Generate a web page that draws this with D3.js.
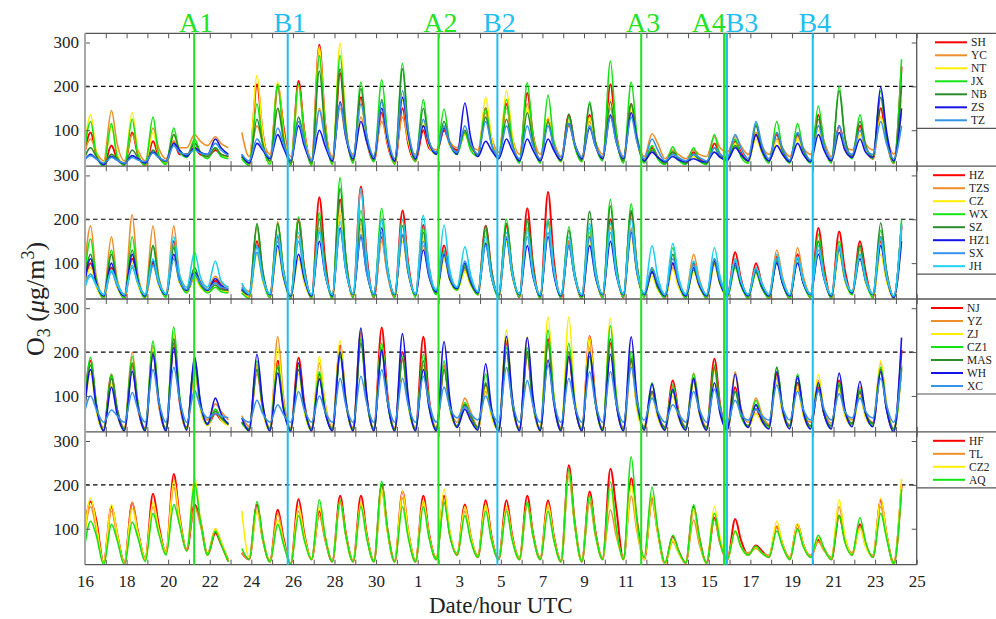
<!DOCTYPE html>
<html>
<head>
<meta charset="utf-8">
<script src="https://cdn.jsdelivr.net/npm/d3@7/dist/d3.min.js"></script>
<style>
  body { margin: 0; background: #fff; }
  svg { display: block; font-family: "Liberation Serif", "Times New Roman", serif; }
</style>
</head>
<body>
<svg id="chart" width="996" height="619"></svg>
<script>
// ---- time axis: hourly O3 from the 16th to the 25th of the following month (960 h) ----
const totalHours = 960;
const dayTickLabels = ["16","18","20","22","24","26","28","30","1","3","5","7","9","11","13","15","17","19","21","23","25"];
const yTickValues = [100, 200, 300];
const yDomain = [18, 321];
const refLevel = 200;

// Times of day (UTC hours) of the night minimum, afternoon peak and evening level
const lowHour = -2.5, peakHour = 6.5, eveHour = 13;

// Episode markers (hours since the 16th, 00 UTC)
const eventNames = ["A1", "B1", "A2", "B2", "A3", "A4", "B3", "B4"];
const eventHours = [126, 234, 408, 476, 642, 738, 741, 840];

// ---- Panel 1: SH YC NT JX NB ZS TZ ---- (one value per day; null = missing)
const SH_pk = [95,65,95,75,75,60,55,null,205,200,212,295,230,175,140,150,100,100,95,150,160,185,125,135,135,205,160,60,50,50,70,75,90,90,90,135,110,110,150,245];
const SH_lo = [25,20,22,20,25,45,40,40,20,25,22,22,25,30,30,25,30,50,55,45,40,30,30,30,30,35,30,30,25,25,25,35,30,30,30,30,30,40,35,25];
const SH_ev = [45,35,45,40,45,45,45,40,95,110,100,120,100,80,70,70,60,70,65,80,80,90,65,70,70,95,80,40,35,35,45,50,55,50,55,70,60,60,80,null];

const YC_pk = [80,145,90,105,75,90,85,null,110,150,120,150,150,130,120,130,110,105,100,140,150,160,120,110,120,150,140,92,55,55,85,85,95,80,85,110,95,100,130,140];
const YC_lo = [35,30,30,30,35,60,65,60,40,45,40,35,40,45,40,35,45,55,60,55,50,45,45,40,40,45,40,40,35,35,40,50,45,45,40,45,40,55,55,45];
const YC_ev = [50,70,55,60,60,75,70,95,75,90,80,95,85,80,75,75,70,75,70,85,85,90,75,70,75,85,85,70,45,45,60,65,65,60,60,75,65,70,85,null];

const NT_pk = [135,110,140,95,90,70,60,null,225,210,200,290,298,160,150,170,120,110,90,175,190,150,130,120,130,170,150,55,45,40,60,70,80,75,80,100,95,90,130,170];
const NT_lo = [22,20,20,20,25,40,40,38,22,25,22,22,25,28,30,25,30,45,50,40,38,28,28,28,28,32,28,30,25,25,25,32,28,28,28,28,28,38,38,28];
const NT_ev = [50,45,50,45,55,50,45,35,95,100,95,120,120,80,75,80,65,65,60,85,90,80,70,65,70,85,75,40,32,30,40,45,50,45,50,60,55,55,75,null];

const JX_pk = [120,115,125,130,105,80,60,null,160,205,205,270,270,210,215,252,170,148,95,150,170,208,180,130,165,258,210,65,62,60,90,80,115,120,115,155,200,135,190,262];
const JX_lo = [20,18,20,20,22,38,35,35,20,22,20,20,22,25,28,22,28,45,45,40,35,25,25,28,28,30,25,25,22,22,22,30,25,25,25,25,25,35,35,25];
const JX_ev = [45,40,45,45,50,50,40,35,70,85,90,110,110,90,95,100,75,70,55,70,75,85,75,65,75,100,90,35,32,30,40,40,55,55,55,70,85,65,85,null];

const NB_pk = [60,45,55,55,90,70,60,null,125,150,130,235,240,195,170,240,150,120,100,130,125,140,120,137,160,165,160,55,50,45,60,65,110,95,95,125,190,120,175,200];
const NB_lo = [25,22,22,25,28,42,40,40,25,30,25,25,28,30,32,28,32,48,50,45,40,30,30,32,32,35,30,30,25,25,25,35,30,30,30,30,30,40,40,30];
const NB_ev = [40,35,38,38,55,50,45,40,70,80,75,100,105,90,85,100,75,70,65,70,70,75,65,70,75,80,80,40,35,32,40,45,60,55,55,65,85,65,85,null];

const ZS_pk = [45,40,42,50,70,60,80,null,70,90,110,100,165,120,150,175,110,105,162,75,80,80,80,115,105,135,140,50,40,35,50,60,90,65,70,90,95,80,198,150];
const ZS_lo = [25,22,24,25,30,40,45,45,25,35,30,30,30,35,35,30,35,45,45,40,35,30,30,32,35,35,35,30,28,28,28,32,30,30,28,28,30,38,38,30];
const ZS_ev = [35,32,35,38,55,50,60,45,55,60,65,65,85,75,80,90,70,70,85,55,55,55,55,70,65,75,80,38,32,30,38,45,55,45,45,55,55,50,100,null];

const TZ_pk = [42,38,38,48,65,55,70,null,80,105,120,145,160,160,165,190,125,110,110,120,110,110,110,115,110,130,130,80,45,45,60,90,120,95,95,110,110,100,120,110];
const TZ_lo = [28,25,25,28,30,45,45,42,30,38,32,30,35,40,40,35,40,50,50,45,40,35,35,38,38,40,38,35,30,30,30,38,35,35,32,32,35,45,45,35];
const TZ_ev = [35,32,32,38,50,48,55,45,60,70,75,80,90,90,90,100,75,70,70,70,65,65,65,70,65,75,75,55,38,38,45,60,70,60,60,65,65,60,70,null];

// ---- Panel 2: HZ TZS CZ WX SZ HZ1 SX JH ----
const HZ_pk = [100,90,110,100,150,70,60,null,150,160,200,250,245,275,160,220,187,140,95,185,185,225,262,150,160,200,215,85,100,100,100,125,100,115,120,180,172,150,150,185];
const HZ_lo = [22,20,20,22,25,35,35,35,22,22,20,20,20,22,22,22,25,30,40,28,22,22,20,20,20,22,22,25,20,22,20,25,20,20,20,22,20,30,22,20];
const HZ_ev = [55,50,60,55,70,50,45,40,75,80,90,110,110,120,80,100,90,75,60,85,85,100,110,75,80,90,95,50,55,55,55,65,55,60,65,90,85,80,80,null];

const TZS_pk = [185,160,210,185,185,75,70,null,180,195,160,180,210,180,150,160,140,110,85,150,160,180,200,150,170,180,180,80,90,120,110,110,90,130,135,150,140,130,160,170];
const TZS_lo = [30,28,28,28,30,45,45,45,35,30,28,28,28,30,30,30,30,35,45,35,30,30,28,28,28,30,30,30,28,30,28,30,28,28,28,30,28,35,30,25];
const TZS_ev = [70,65,75,70,75,60,55,50,80,85,75,85,90,85,75,80,70,65,60,75,75,85,90,75,80,85,85,50,55,65,60,60,55,70,70,75,70,70,80,null];

const CZ_pk = [90,85,100,95,110,70,50,null,120,130,110,170,220,190,170,150,160,110,80,150,150,170,190,140,150,170,160,70,85,80,95,90,75,100,105,140,120,110,120,150];
const CZ_lo = [22,22,22,22,25,35,35,35,22,25,22,22,22,25,25,25,25,30,38,28,25,25,22,22,22,25,25,25,22,22,22,25,22,22,22,25,22,28,25,20];
const CZ_ev = [45,45,50,50,55,45,38,35,60,65,55,80,95,85,80,75,75,60,50,70,70,80,85,70,70,80,75,40,45,45,50,50,45,55,55,70,60,55,60,null];

const WX_pk = [155,130,160,140,140,75,45,null,185,190,205,215,295,220,225,200,180,130,95,175,200,195,200,183,180,245,235,85,135,90,110,90,80,110,110,165,150,140,175,198];
const WX_lo = [20,20,20,20,22,32,32,32,20,22,20,20,20,22,22,22,22,28,38,28,22,22,20,20,20,22,22,22,20,20,20,22,20,20,20,22,20,28,22,20];
const WX_ev = [60,55,65,60,65,50,35,32,75,80,85,90,115,95,95,90,80,65,55,75,85,85,85,80,80,100,95,45,60,50,55,50,45,55,55,75,70,65,80,null];

const SZ_pk = [120,120,130,140,135,90,50,null,190,190,195,200,270,200,200,185,170,120,90,185,190,200,195,175,218,230,220,80,120,85,100,95,80,105,110,150,130,140,192,190];
const SZ_lo = [25,25,25,25,28,38,38,38,28,28,25,25,25,28,28,28,28,32,42,32,28,28,25,25,25,28,28,28,25,25,25,28,25,25,25,28,25,32,28,22];
const SZ_ev = [55,55,60,65,65,55,40,38,85,85,90,90,110,90,90,85,80,65,55,85,85,90,85,80,95,100,95,45,60,50,55,50,45,55,55,70,65,70,85,null];

const HZ1_pk = [110,100,120,105,120,80,65,null,140,140,120,150,180,160,180,165,130,120,100,145,155,140,160,140,140,150,170,80,100,90,105,100,85,100,100,120,135,110,140,150];
const HZ1_lo = [25,25,25,25,28,38,38,40,28,28,25,25,25,28,28,28,28,35,42,32,28,28,25,25,25,28,28,28,25,25,25,28,25,25,25,28,25,32,28,22];
const HZ1_ev = [55,50,60,55,60,55,50,42,70,70,65,75,85,80,85,80,70,65,60,70,75,70,75,70,70,75,80,50,55,50,55,55,50,55,55,65,70,60,70,null];

const SX_pk = [75,80,90,95,110,75,55,null,125,150,150,170,175,165,170,165,150,125,105,140,160,160,170,140,160,170,175,90,110,95,110,105,85,110,110,130,135,120,160,180];
const SX_lo = [28,28,28,28,30,40,40,42,30,30,28,28,28,30,30,30,30,38,45,35,30,30,28,28,28,30,30,30,28,28,28,30,28,28,28,30,28,35,30,25];
const SX_ev = [50,50,55,55,60,55,45,45,65,75,75,80,85,80,80,80,75,70,65,70,75,75,80,70,75,80,80,55,60,55,60,60,55,60,60,65,65,60,75,null];

const JH_pk = [70,85,95,110,160,125,105,null,140,165,170,175,195,270,200,200,209,187,137,160,170,175,200,160,190,190,200,140,145,105,135,110,90,120,115,140,140,120,155,190];
const JH_lo = [30,28,28,28,30,45,45,45,30,30,28,28,28,30,30,30,30,40,45,35,30,30,28,28,28,30,30,32,28,30,28,30,28,28,28,30,28,35,30,25];
const JH_ev = [50,55,55,60,75,70,60,55,70,80,80,80,90,110,90,90,95,85,75,75,80,80,90,75,85,85,90,70,70,60,70,60,55,65,60,70,70,65,75,null];

// ---- Panel 3: NJ YZ ZJ CZ1 MAS WH XC ----
const NJ_pk = [180,148,170,200,220,170,60,null,170,180,187,150,215,245,256,200,235,170,80,125,220,200,230,190,236,220,180,110,135,140,185,120,70,150,130,120,135,110,160,205];
const NJ_lo = [25,22,22,22,22,25,35,35,22,22,22,22,22,22,22,22,22,22,30,25,22,22,22,22,22,22,22,25,25,25,25,25,30,30,30,30,30,35,35,20];
const NJ_ev = [80,70,75,85,90,80,45,40,75,80,85,70,90,100,105,90,95,80,55,65,90,85,95,85,95,90,80,60,65,65,80,60,45,70,65,60,65,60,75,null];

const YZ_pk = [170,140,200,215,230,165,82,null,150,235,160,175,200,230,210,180,170,160,95,110,225,190,220,200,210,215,190,105,120,152,160,155,95,140,125,135,125,120,175,160];
const YZ_lo = [30,28,28,28,28,30,45,45,30,28,28,28,28,28,28,28,28,28,40,30,28,28,28,28,28,28,28,32,30,30,30,35,40,35,35,40,38,45,40,25];
const YZ_ev = [80,70,85,90,95,80,65,55,75,100,80,85,90,100,95,85,85,80,65,65,95,85,95,90,90,95,85,60,65,75,75,75,60,70,65,70,65,65,85,null];

const ZJ_pk = [150,130,175,205,245,165,70,null,170,210,150,190,226,252,220,190,180,175,70,120,250,235,280,280,235,277,170,100,100,130,155,150,60,130,115,148,115,100,180,160];
const ZJ_lo = [20,20,20,20,20,22,32,32,20,20,20,20,20,20,20,20,20,20,28,22,20,20,20,20,20,20,20,22,22,22,22,22,28,28,28,28,28,32,32,20];
const ZJ_ev = [65,60,75,85,95,70,45,38,70,85,65,80,90,100,90,80,75,75,45,55,95,90,105,105,90,105,70,50,50,60,70,65,40,60,55,65,55,50,80,null];

const CZ1_pk = [188,150,190,225,257,185,70,null,180,170,170,155,200,230,220,190,195,180,85,150,210,210,250,220,200,260,200,130,125,150,170,110,90,165,150,125,130,115,165,170];
const CZ1_lo = [22,20,22,22,22,25,35,35,22,22,22,22,22,22,22,22,22,22,30,25,22,22,22,22,22,22,22,25,25,25,25,25,30,30,30,30,30,35,35,22];
const CZ1_ev = [85,70,85,95,105,85,50,38,80,75,75,70,90,95,90,85,85,80,55,70,90,90,100,90,85,105,85,65,60,70,75,55,50,75,70,60,65,60,75,null];

const MAS_pk = [170,140,175,200,230,170,65,null,160,165,160,140,190,220,200,185,180,160,80,130,200,195,220,200,190,230,185,110,110,135,165,110,80,165,140,115,125,110,160,165];
const MAS_lo = [25,22,25,25,25,28,38,38,25,25,25,25,25,25,25,25,25,25,32,28,25,25,25,25,25,25,25,28,28,28,28,28,32,32,32,32,32,38,38,25];
const MAS_ev = [80,70,80,90,95,80,50,40,75,75,75,65,85,95,90,85,80,75,55,65,85,85,95,85,85,95,85,60,60,65,75,60,50,75,70,60,65,60,75,null];

const WH_pk = [160,120,156,195,210,190,95,null,195,152,175,138,200,255,205,242,160,224,70,173,236,233,182,190,200,195,235,127,115,140,130,150,80,155,145,130,152,133,155,233];
const WH_lo = [22,20,20,20,20,22,35,35,20,20,20,20,20,20,20,20,20,20,28,22,20,20,20,20,20,20,20,22,22,22,22,22,28,25,25,25,25,30,30,18];
const WH_ev = [75,60,75,90,95,90,60,50,85,70,80,65,90,105,90,100,75,95,45,75,100,100,85,85,90,85,100,60,55,65,60,70,45,70,65,60,70,60,70,null];

const XC_pk = [100,68,108,160,165,112,60,null,90,80,110,100,140,145,160,140,145,120,75,100,165,135,170,140,155,155,165,95,80,110,115,90,70,125,110,110,105,95,140,160];
const XC_lo = [45,40,40,40,40,40,50,50,40,40,40,40,40,40,40,40,40,40,50,45,40,40,40,40,40,40,40,45,40,40,40,40,45,45,45,45,45,50,50,40];
const XC_ev = [70,55,70,90,95,75,55,50,60,58,70,65,80,85,90,80,85,75,60,65,90,80,90,80,85,85,90,65,60,70,70,60,55,75,70,70,65,65,80,null];

// ---- Panel 4: HF TL CZ2 AQ ----
const HF_pk = [162,150,159,180,225,155,90,null,155,143,168,140,175,175,200,185,175,175,155,165,165,175,165,245,185,237,215,170,83,150,125,122,62,105,110,75,130,110,165,200];
const HF_lo = [65,22,22,30,45,50,40,25,30,25,20,30,25,25,25,25,25,30,40,35,30,30,30,25,25,30,30,30,20,22,22,30,40,35,30,35,30,40,35,20];
const HF_ev = [120,90,95,110,130,120,65,45,80,80,90,80,90,90,100,95,90,90,85,85,85,90,85,120,95,150,120,95,50,80,70,75,50,65,65,55,75,65,90,null];

const TL_pk = [150,140,160,150,195,150,100,null,140,135,140,130,160,155,185,170,160,160,140,150,145,155,150,220,160,143,175,160,70,120,120,95,55,105,100,70,150,105,150,200];
const TL_lo = [55,25,25,35,50,55,45,30,30,28,22,32,28,28,28,28,28,35,45,40,35,35,35,28,28,35,35,30,22,25,25,35,45,40,35,40,35,45,40,25];
const TL_ev = [100,85,95,95,115,110,70,45,75,75,80,75,85,85,95,90,85,85,80,80,80,85,80,110,85,85,95,90,45,65,65,60,45,65,60,50,80,60,85,null];

const CZ2_pk = [170,155,145,160,210,217,100,null,140,120,150,150,165,160,190,185,165,190,150,155,150,160,155,230,175,190,200,175,75,145,150,95,58,117,112,80,166,100,170,213];
const CZ2_lo = [40,20,20,30,45,50,40,25,35,25,20,30,25,25,25,25,25,30,40,35,30,30,30,25,25,30,30,30,20,22,22,30,40,35,30,35,30,40,35,18];
const CZ2_ev = [110,90,90,100,125,125,70,140,80,70,85,85,85,85,95,95,85,95,85,80,80,85,80,115,90,100,105,95,45,75,80,60,45,65,65,55,85,60,90,null];

const AQ_pk = [117,110,115,135,155,204,95,null,162,110,130,166,165,150,208,150,150,160,130,140,140,160,140,235,175,207,264,195,85,155,135,95,60,95,100,85,130,125,135,190];
const AQ_lo = [30,18,18,25,40,50,40,25,30,25,20,30,25,25,25,25,25,30,40,35,30,30,30,25,25,30,30,35,22,22,22,30,40,35,30,35,30,40,35,20];
const AQ_ev = [85,75,80,90,110,120,65,55,80,65,75,85,85,80,100,80,80,85,75,75,75,85,75,115,90,105,120,100,50,80,70,60,45,60,60,55,70,70,80,null];

// ---- series tables per panel ----
const C = { red: "#ff0000", orange: "#ef8f2c", yellow: "#ffee00", green: "#14e314",
            dkgreen: "#2a8c2a", blue: "#1414e6", ltblue: "#3593ee", cyan: "#1fd0f2" };
const panels = [
  [ ["SH", C.red, SH_lo, SH_pk, SH_ev], ["YC", C.orange, YC_lo, YC_pk, YC_ev], ["NT", C.yellow, NT_lo, NT_pk, NT_ev],
    ["JX", C.green, JX_lo, JX_pk, JX_ev], ["NB", C.dkgreen, NB_lo, NB_pk, NB_ev], ["ZS", C.blue, ZS_lo, ZS_pk, ZS_ev],
    ["TZ", C.ltblue, TZ_lo, TZ_pk, TZ_ev] ],
  [ ["HZ", C.red, HZ_lo, HZ_pk, HZ_ev], ["TZS", C.orange, TZS_lo, TZS_pk, TZS_ev], ["CZ", C.yellow, CZ_lo, CZ_pk, CZ_ev],
    ["WX", C.green, WX_lo, WX_pk, WX_ev], ["SZ", C.dkgreen, SZ_lo, SZ_pk, SZ_ev], ["HZ1", C.blue, HZ1_lo, HZ1_pk, HZ1_ev],
    ["SX", C.ltblue, SX_lo, SX_pk, SX_ev], ["JH", C.cyan, JH_lo, JH_pk, JH_ev] ],
  [ ["NJ", C.red, NJ_lo, NJ_pk, NJ_ev], ["YZ", C.orange, YZ_lo, YZ_pk, YZ_ev], ["ZJ", C.yellow, ZJ_lo, ZJ_pk, ZJ_ev],
    ["CZ1", C.green, CZ1_lo, CZ1_pk, CZ1_ev], ["MAS", C.dkgreen, MAS_lo, MAS_pk, MAS_ev], ["WH", C.blue, WH_lo, WH_pk, WH_ev],
    ["XC", C.ltblue, XC_lo, XC_pk, XC_ev] ],
  [ ["HF", C.red, HF_lo, HF_pk, HF_ev], ["TL", C.orange, TL_lo, TL_pk, TL_ev], ["CZ2", C.yellow, CZ2_lo, CZ2_pk, CZ2_ev],
    ["AQ", C.green, AQ_lo, AQ_pk, AQ_ev] ]
];

// ---- layout ----
const L = 85, R = 916.7, RIGHT_EDGE = 996;
const panelTops = [33.3, 166.2, 299, 431.8];
const PH = 132.9;
const legendLineX = [935, 933, 931, 933];

const svg = d3.select("#chart");
const x = d3.scaleLinear().domain([0, totalHours]).range([L, R]);
const dayHours = d3.range(0, totalHours + 1, 24);

function seriesPoints(lo, pk, ev) {
  const pts = [];
  for (let i = 0; i < pk.length; i++) {
    pts.push({ t: i * 24 + lowHour, v: lo[i] });
    pts.push({ t: i * 24 + peakHour, v: pk[i] });
    pts.push({ t: i * 24 + eveHour, v: ev[i] });
  }
  return pts;
}

const defs = svg.append("defs");

panels.forEach((series, k) => {
  const top = panelTops[k], bot = top + PH;
  const y = d3.scaleLinear().domain(yDomain).range([bot, top]);
  const g = svg.append("g");

  defs.append("clipPath").attr("id", "clip" + k)
    .append("rect").attr("x", L).attr("y", top).attr("width", R - L).attr("height", PH);

  // 200 µg/m3 reference
  g.append("line").attr("x1", L).attr("x2", R).attr("y1", y(refLevel)).attr("y2", y(refLevel))
    .attr("stroke", "#000").attr("stroke-width", 1.2).attr("stroke-dasharray", "4.5,3.5");

  const line = d3.line().defined(d => d.v != null)
    .x(d => x(d.t)).y(d => y(d.v)).curve(d3.curveMonotoneX);

  const lines = g.append("g").attr("clip-path", `url(#clip${k})`);
  series.forEach(([name, color, lo, pk, ev]) => {
    lines.append("path").datum(seriesPoints(lo, pk, ev))
      .attr("d", line).attr("fill", "none").attr("stroke", color)
      .attr("stroke-width", color === C.red ? 2 : 1.6).attr("stroke-linejoin", "round");
  });

  // y axes (ticks inside)
  const yl = g.append("g").attr("transform", `translate(${L},0)`)
    .call(d3.axisLeft(y).tickValues(yTickValues).tickSize(-5).tickPadding(6));
  yl.select(".domain").remove();
  yl.selectAll("line").attr("stroke", "#555");
  yl.selectAll("text").attr("font-size", 17).attr("fill", "#222").attr("font-family", "Liberation Serif, serif");
  const yr = g.append("g").attr("transform", `translate(${R},0)`)
    .call(d3.axisRight(y).tickValues(yTickValues).tickSize(-5).tickFormat(""));
  yr.select(".domain").remove();
  yr.selectAll("line").attr("stroke", "#555");

  // day ticks, top and bottom, inside
  const xt = g.append("g").attr("transform", `translate(0,${top})`)
    .call(d3.axisBottom(x).tickValues(dayHours).tickSize(5).tickFormat(""));
  xt.select(".domain").remove();
  xt.selectAll("line").attr("stroke", "#555");
  const xb = g.append("g").attr("transform", `translate(0,${bot})`)
    .call(d3.axisTop(x).tickValues(dayHours).tickSize(5).tickFormat(""));
  xb.select(".domain").remove();
  xb.selectAll("line").attr("stroke", "#555");

  // panel top rule runs across the legend column
  g.append("line").attr("x1", L).attr("x2", RIGHT_EDGE).attr("y1", top).attr("y2", top)
    .attr("stroke", "#555").attr("stroke-width", 1.3);

  // legend
  const legH = series.length * 13 + 4;
  g.append("line").attr("x1", R).attr("x2", RIGHT_EDGE).attr("y1", top + legH).attr("y2", top + legH)
    .attr("stroke", "#555").attr("stroke-width", 1.2);
  const lx = legendLineX[k];
  series.forEach(([name, color], i) => {
    const ly = top + 9 + i * 13;
    g.append("line").attr("x1", lx).attr("x2", lx + 32).attr("y1", ly).attr("y2", ly)
      .attr("stroke", color).attr("stroke-width", 2);
    g.append("text").attr("x", lx + 36).attr("y", ly).attr("dy", "0.35em")
      .attr("font-size", 11.5).attr("fill", "#222").text(name);
  });
});

const plotTop = panelTops[0], plotBot = panelTops[3] + PH;

// outer frame
svg.append("line").attr("x1", L).attr("x2", L).attr("y1", plotTop).attr("y2", plotBot)
  .attr("stroke", "#a8a8a8").attr("stroke-width", 2);
svg.append("line").attr("x1", R).attr("x2", R).attr("y1", plotTop).attr("y2", plotBot)
  .attr("stroke", "#555").attr("stroke-width", 1.3);
svg.append("line").attr("x1", L).attr("x2", R).attr("y1", plotBot).attr("y2", plotBot)
  .attr("stroke", "#555").attr("stroke-width", 1.3);

// date labels under the bottom panel
const xl = svg.append("g").attr("transform", `translate(0,${plotBot})`)
  .call(d3.axisBottom(x).tickValues(d3.range(0, totalHours + 1, 48)).tickSize(0).tickPadding(10.5)
    .tickFormat((d, i) => dayTickLabels[i]));
xl.select(".domain").remove();
xl.selectAll("text").attr("font-size", 17).attr("fill", "#222").attr("font-family", "Liberation Serif, serif");

// episode markers
const green = "#22e222", cyan = "#1fbef0";
eventNames.forEach((name, i) => {
  const col = name[0] === "A" ? green : cyan;
  const xv = x(eventHours[i]);
  svg.append("line").attr("x1", xv).attr("x2", xv).attr("y1", plotTop).attr("y2", plotBot)
    .attr("stroke", col).attr("stroke-width", name === "A4" ? 2.6 : 2);
  let anchor = "middle", tx = xv + 2;
  if (name === "A4") { anchor = "end"; tx = xv + 1.5; }
  if (name === "B3") { anchor = "start"; tx = xv - 1.5; }
  svg.append("text").attr("x", tx).attr("y", 31.5).attr("text-anchor", anchor)
    .attr("font-size", 28).attr("fill", col).text(name);
});

// axis titles
svg.append("text").attr("x", (L + R) / 2).attr("y", 613).attr("text-anchor", "middle")
  .attr("font-size", 23).attr("fill", "#222").text("Date/hour UTC");

const yt = svg.append("text").attr("transform", `translate(44,${(plotTop + plotBot) / 2}) rotate(-90)`)
  .attr("text-anchor", "middle").attr("font-size", 26).attr("fill", "#222");
yt.append("tspan").text("O");
yt.append("tspan").attr("font-size", 18).attr("dy", 6).text("3");
yt.append("tspan").attr("dy", -6).text(" (");
yt.append("tspan").attr("font-style", "italic").text("\u03bc");
yt.append("tspan").text("g/m");
yt.append("tspan").attr("font-size", 18).attr("dy", -10).text("3");
yt.append("tspan").attr("dy", 10).text(")");
</script>
</body>
</html>
